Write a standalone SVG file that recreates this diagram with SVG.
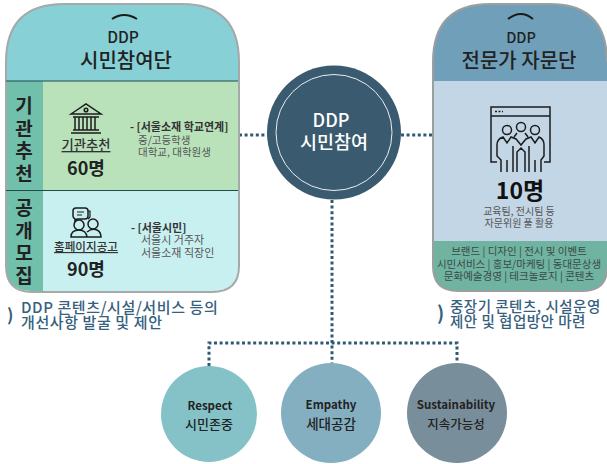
<svg xmlns="http://www.w3.org/2000/svg" width="607" height="464" viewBox="0 0 607 464">
<style>
text{font-family:"Noto Sans CJK KR","Noto Sans",sans-serif;text-anchor:middle}
.l{text-anchor:start}
.b{font-weight:700}
.m{font-weight:500}
.dot{fill:none;stroke:#2f5a72;stroke-width:3;stroke-dasharray:3 2.6}
.ic{fill:none;stroke:#1c1c1c;stroke-width:1.500}
.g{fill:#555}
.blue{fill:#35607e;font-weight:500}
</style>
<rect width="607" height="464" fill="#fff"/>
<g id="connectors">
<path class="dot" d="M239 135H268M401 135H433M332 200V364M209 366V343H457V364"/>
</g>
<g id="panel-left">
<path d="M6 81V62Q6 4 64 4H182Q239 4 239 62V81Z" fill="#86d0d6"/>
<rect x="6" y="81" width="37" height="109" fill="#71c0ab"/>
<rect x="43" y="81" width="195" height="109" fill="#b9e2bb"/>
<path d="M6 190H43V291H32Q6 291 6 266Z" fill="#71c0ab"/>
<path d="M43 190H238V268Q238 291 212 291H43Z" fill="#c9f0f0"/>
<path d="M6 266V62Q6 4 64 4H182Q239 4 239 62V266Q239 292 212 292H32Q6 292 6 266Z" fill="none" stroke="#a5a9a9" stroke-width="2"/>
<path d="M6 81H238M6 190.500H238" stroke="#1f4d4f" stroke-width="1"/>
<path d="M112 19Q124 11 137 19" fill="none" stroke="#1b1b1b" stroke-width="2"/>
<text x="123" y="43" font-size="15.500" class="m" fill="#222">DDP</text>
<text x="126" y="68" font-size="20" class="m" fill="#222">시민참여단</text>
<g font-size="19" class="b" fill="#222"><text x="24" y="113">기</text><text x="24" y="136">관</text><text x="24" y="158">추</text><text x="24" y="181">천</text></g>
<g font-size="19" class="b" fill="#222"><text x="24" y="215">공</text><text x="24" y="238">개</text><text x="24" y="260">모</text><text x="24" y="283">집</text></g>
<g id="icon-bank" class="ic"><path d="M71 114L86 104L101 114ZM73 117H99M73 130H99M71 133H101M75 117V130M79 117V130M83 117V130M87 117V130M91 117V130M95 117V130"/><circle cx="86" cy="110" r="1.800"/></g>
<text x="86" y="150" font-size="13.300" class="m" fill="#333" text-decoration="underline">기관추천</text>
<text x="86" y="175" font-size="18" class="b" fill="#222">60명</text>
<text x="130" y="131" font-size="11" class="l b" fill="#333">- [서울소재 학교연계]</text>
<text x="138" y="144" font-size="10.500" class="l g">중/고등학생</text>
<text x="138" y="156" font-size="10.500" class="l g">대학교, 대학원생</text>
<g id="icon-people" class="ic"><path d="M73 211Q73 208 76 208H85Q88 208 88 211V216Q88 219 85 219H77L75 221V219Q73 218 73 216Z"/><path d="M88 211H90V217L88 219M77 212H84M77 215H82" stroke-width="1.200"/><circle cx="79" cy="225" r="5"/><circle cx="93" cy="224" r="5"/><path d="M71 237Q71 230 79 230Q86 230 87 237ZM87 232Q92 228 97 230Q101 232 101 237H87"/></g>
<text x="86" y="251" font-size="11.600" class="m" fill="#333" text-decoration="underline">홈페이지공고</text>
<text x="86" y="276" font-size="18" class="b" fill="#222">90명</text>
<text x="131" y="232" font-size="11" class="l b" fill="#333">- [서울시민]</text>
<text x="141" y="244" font-size="11" class="l g">서울시 거주자</text>
<text x="141" y="257" font-size="11" class="l g">서울소재 직장인</text>
</g>
<text x="7" y="321" font-size="17" class="l b" fill="#35607e">)</text>
<text x="21" y="313" font-size="15" letter-spacing=".6" class="l blue">DDP 콘텐츠/시설/서비스 등의</text>
<text x="21" y="328" font-size="15" letter-spacing=".6" class="l blue">개선사항 발굴 및 제안</text>
<g id="center">
<circle cx="334" cy="132.500" r="67" fill="#3a5a70"/>
<circle cx="334" cy="132.500" r="58" fill="none" stroke="#e8eef0" stroke-width="1"/>
<text x="331" y="127" font-size="18" class="m" fill="#fff">DDP</text>
<text x="334" y="149" font-size="18.500" class="m" fill="#fff">시민참여</text>
</g>
<g id="panel-right">
<path d="M433 81V62Q433 4 490 4H550Q607 4 607 62V81Z" fill="#709fba"/>
<rect x="433" y="81" width="174" height="160" fill="#c3d6e5"/>
<path d="M433 241H607V268Q607 291 582 291H458Q433 291 433 268Z" fill="#6fb3a0"/>
<path d="M433 266V62Q433 4 490 4H550Q607 4 607 62M607 268Q607 291 582 291H458Q433 291 433 266" fill="none" stroke="#9a9f9f" stroke-width="2"/>
<path d="M508 19Q521 9 533 19" fill="none" stroke="#1b1b1b" stroke-width="2"/>
<text x="521" y="43" font-size="14.500" class="m" fill="#222">DDP</text>
<text x="519" y="68" font-size="20" class="m" fill="#222">전문가 자문단</text>
<g id="icon-panel" class="ic"><path d="M497 162H491V107H550V162H544M491 116H550"/><path d="M495 111.500H503" stroke-dasharray="2 1.500"/><circle cx="507" cy="130" r="4.500"/><circle cx="521" cy="127" r="4.500"/><circle cx="535" cy="130" r="4.500"/><path d="M501 172V160L497 156V145Q497 139 503 137L507 143L511 137L516 139L521 145L526 139L531 137L535 143L539 137Q544 139 544 145V156L541 160V172M507 172V160M513 172V146M529 172V146M535 172V160M517 172V152L521 148L525 152V172M514 137L517 133M528 137L525 133"/></g>
<text x="520" y="199" font-size="23" class="b" fill="#111">10명</text>
<text x="519" y="215" font-size="10" class="g">교육팀, 전시팀 등</text>
<text x="519" y="227" font-size="10" class="g">자문위원 풀 활용</text>
<g font-size="10.500" fill="#3a4a47"><text x="519" y="255">브랜드 | 디자인 | 전시 및 이벤트</text><text x="519" y="268">시민서비스 | 홍보/마케팅 | 동대문상생</text><text x="519" y="280">문화예술경영 | 테크놀로지 | 콘텐츠</text></g>
</g>
<text x="437" y="320" font-size="19" class="l b" fill="#35607e">)</text>
<text x="450" y="312" font-size="14.500" letter-spacing=".5" class="l blue">중장기 콘텐츠, 시설운영</text>
<text x="450" y="327" font-size="14.500" letter-spacing=".5" class="l blue">제안 및 협업방안 마련</text>
<g id="respect"><circle cx="209" cy="414" r="48" fill="#84c2c8"/><text x="210" y="410" font-size="11.500" class="b" fill="#222">Respect</text><text x="209" y="429" font-size="13" class="m" fill="#222">시민존중</text></g>
<g id="empathy"><circle cx="331" cy="413" r="50" fill="#84afc1"/><text x="331" y="409" font-size="11.500" class="b" fill="#222">Empathy</text><text x="331" y="429" font-size="13.500" class="m" fill="#222">세대공감</text></g>
<g id="sustainability"><circle cx="457" cy="413" r="50" fill="#798e9b"/><text x="456" y="409" font-size="11.500" class="b" fill="#222">Sustainability</text><text x="456" y="429" font-size="12.500" class="m" fill="#222">지속가능성</text></g>
</svg>
